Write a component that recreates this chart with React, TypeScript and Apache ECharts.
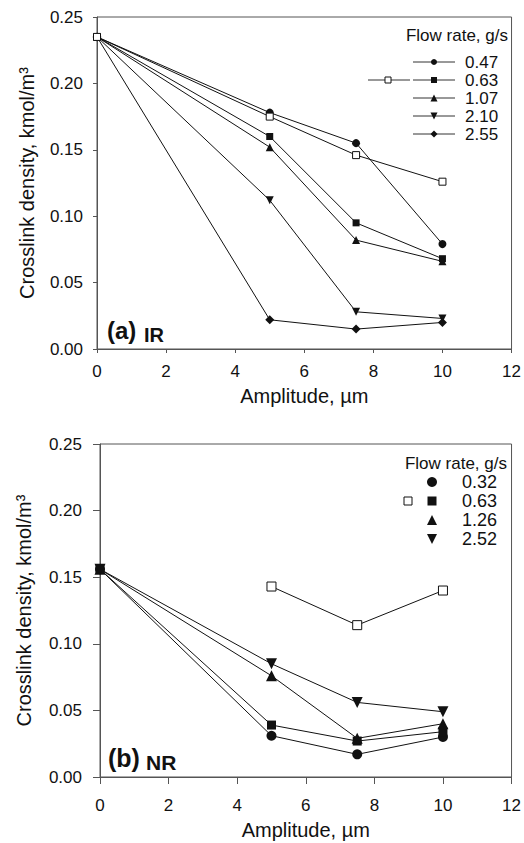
import React, { useEffect, useRef } from "react";
import * as echarts from "echarts";

// ---------- data ----------
const amplitude = [0, 5, 7.5, 10];

// (a) IR panel
const irLabels = ["0.47", "0.63", "1.07", "2.10", "2.55"];
const ir047 = [0.235, 0.178, 0.155, 0.079];
const ir063open = [0.235, 0.175, 0.146, 0.126];
const ir063 = [0.235, 0.16, 0.095, 0.068];
const ir107 = [0.235, 0.152, 0.082, 0.066];
const ir210 = [0.235, 0.112, 0.028, 0.023];
const ir255 = [0.235, 0.022, 0.015, 0.02];

// (b) NR panel
const nrLabels = ["0.32", "0.63", "1.26", "2.52"];
const nr032 = [0.156, 0.031, 0.017, 0.03];
const nr063open = [null, 0.143, 0.114, 0.14];
const nr063 = [0.156, 0.039, 0.027, 0.034];
const nr126 = [0.156, 0.076, 0.029, 0.04];
const nr252 = [0.156, 0.085, 0.056, 0.049];

const legendTitle = "Flow rate, g/s";
const xTitle = "Amplitude, \u00b5m";
const yTitle = "Crosslink density, kmol/m\u00b3";

const FONT = '"Liberation Sans", Arial, Helvetica, sans-serif';
const INK = "#111";
const AXIS = "#555";

function pairs(vals: (number | null)[]) {
  const out: number[][] = [];
  amplitude.forEach((x, i) => {
    const v = vals[i];
    if (v !== null && v !== undefined) out.push([x, v]);
  });
  return out;
}

function lineSeries(
  name: string,
  vals: (number | null)[],
  idx: number,
  symbol: string,
  size: number | number[],
  opts: { rotate?: number; open?: boolean } = {}
) {
  return {
    type: "line",
    name,
    xAxisIndex: idx,
    yAxisIndex: idx,
    data: pairs(vals),
    symbol,
    symbolSize: size,
    symbolRotate: opts.rotate || 0,
    showSymbol: true,
    lineStyle: { color: INK, width: 1 },
    itemStyle: opts.open
      ? { color: "#fff", borderColor: INK, borderWidth: 1 }
      : { color: INK, borderColor: INK, borderWidth: 0 },
    emphasis: { disabled: true },
    z: opts.open ? 3 : 2,
  };
}

function axes(
  idx: number,
  tickLen: number,
  xMargin: number,
  yMargin: number,
  xNameGap: number,
  yNameGap: number
) {
  const common = {
    gridIndex: idx,
    axisLine: { show: true, onZero: false, lineStyle: { color: AXIS, width: 1 } },
    axisTick: { show: true, inside: false, length: tickLen, lineStyle: { color: AXIS, width: 1 } },
    splitLine: { show: false },
  };
  const x = {
    ...common,
    type: "value",
    min: 0,
    max: 12,
    interval: 2,
    name: xTitle,
    nameLocation: "middle",
    nameGap: xNameGap,
    nameTextStyle: { fontFamily: FONT, fontSize: 20, color: INK },
    axisLabel: { margin: xMargin, fontFamily: FONT, fontSize: 17, color: INK },
  };
  const y = {
    ...common,
    type: "value",
    min: 0,
    max: 0.25,
    interval: 0.05,
    name: yTitle,
    nameLocation: "middle",
    nameGap: yNameGap,
    nameTextStyle: { fontFamily: FONT, fontSize: 20, color: INK },
    axisLabel: {
      margin: yMargin,
      fontFamily: FONT,
      fontSize: 17,
      color: INK,
      formatter: (v: number) => v.toFixed(2),
    },
  };
  return { x, y };
}

// ---------- legend helpers (graphic) ----------
function markerShape(kind: string, cx: number, cy: number, s: number, open = false) {
  const style = open
    ? { fill: "#fff", stroke: INK, lineWidth: 1 }
    : { fill: INK, stroke: INK, lineWidth: 0 };
  const h = s / 2;
  if (kind === "circle") return { type: "circle", shape: { cx, cy, r: h }, style, z: 10 };
  if (kind === "rect")
    return { type: "rect", shape: { x: cx - h, y: cy - h, width: s, height: s }, style, z: 10 };
  if (kind === "triangle")
    return {
      type: "polygon",
      shape: { points: [[cx, cy - h], [cx + h, cy + h], [cx - h, cy + h]] },
      style,
      z: 10,
    };
  if (kind === "down")
    return {
      type: "polygon",
      shape: { points: [[cx - h, cy - h], [cx + h, cy - h], [cx, cy + h]] },
      style,
      z: 10,
    };
  return {
    type: "polygon",
    shape: { points: [[cx, cy - h], [cx + h, cy], [cx, cy + h], [cx - h, cy]] },
    style,
    z: 10,
  };
}

function hline(x1: number, x2: number, y: number) {
  return {
    type: "line",
    shape: { x1, y1: y, x2, y2: y },
    style: { stroke: "#333", lineWidth: 1 },
    z: 9,
  };
}

function label(text: string, x: number, y: number, size: number, align = "left", bold = false) {
  return {
    type: "text",
    x,
    y,
    style: {
      text,
      fill: INK,
      font: `${bold ? "bold " : ""}${size}px ${FONT}`,
      align,
      verticalAlign: "middle",
    },
    z: 10,
  };
}

export default function App() {
  const ref = useRef<HTMLDivElement>(null);

  useEffect(() => {
    if (!ref.current) return;
    const chart = echarts.init(ref.current, null, { renderer: "svg" });

    const a = axes(0, 4, 14, 14, 37, 60);
    const b = axes(1, 7, 20, 18, 43, 66);

    // legends
    const topRows = [62, 80, 98, 116, 134];
    const topKinds = ["circle", "rect", "triangle", "down", "diamond"];
    const topSizes = [6, 6, 7, 7, 7];
    const topLegend: any[] = [label(legendTitle, 508, 35, 17, "right")];
    topRows.forEach((ry, i) => {
      topLegend.push(hline(413, 455, ry));
      topLegend.push(markerShape(topKinds[i], 434, ry, topSizes[i]));
      topLegend.push(label(irLabels[i], 465, ry, 17));
    });
    topLegend.push(hline(368, 410, topRows[1]));
    topLegend.push(markerShape("rect", 388, topRows[1], 6, true));

    const botRows = [482, 501, 520, 539];
    const botKinds = ["circle", "rect", "triangle", "down"];
    const botSizes = [10, 9, 10, 10];
    const botLegend: any[] = [label(legendTitle, 507, 463, 17, "right")];
    botRows.forEach((ry, i) => {
      botLegend.push(markerShape(botKinds[i], 432, ry, botSizes[i]));
      botLegend.push(label(nrLabels[i], 462, ry, 18));
    });
    botLegend.push(markerShape("rect", 408, botRows[1], 8, true));

    const annotations = [
      label("(a)", 107, 330, 24, "left", true),
      label("IR", 144, 335, 20, "left", true),
      label("(b)", 108, 758, 25, "left", true),
      label("NR", 146, 762, 21, "left", true),
    ];

    chart.setOption({
      animation: false,
      textStyle: { fontFamily: FONT },
      grid: [
        { left: 97, top: 17, width: 415, height: 332, show: true, borderColor: AXIS, borderWidth: 1, backgroundColor: "transparent" },
        { left: 100, top: 444, width: 412, height: 333, show: true, borderColor: AXIS, borderWidth: 1, backgroundColor: "transparent" },
      ],
      xAxis: [a.x, b.x],
      yAxis: [a.y, b.y],
      series: [
        lineSeries("IR 0.47", ir047, 0, "circle", 8),
        lineSeries("IR 0.63", ir063, 0, "rect", 7),
        lineSeries("IR 1.07", ir107, 0, "triangle", 8),
        lineSeries("IR 2.10", ir210, 0, "triangle", 8, { rotate: 180 }),
        lineSeries("IR 2.55", ir255, 0, "diamond", 9),
        lineSeries("IR 0.63 (open)", ir063open, 0, "rect", 7, { open: true }),
        lineSeries("NR 0.32", nr032, 1, "circle", 10),
        lineSeries("NR 0.63", nr063, 1, "rect", 9),
        lineSeries("NR 1.26", nr126, 1, "triangle", 11),
        lineSeries("NR 2.52", nr252, 1, "triangle", 11, { rotate: 180 }),
        lineSeries("NR 0.63 (open)", nr063open, 1, "rect", 9, { open: true }),
      ],
      graphic: [...topLegend, ...botLegend, ...annotations],
    });

    return () => chart.dispose();
  }, []);

  return (
    <div
      ref={ref}
      style={{ position: "absolute", left: 0, top: 0, width: 524, height: 843, background: "#fff" }}
    />
  );
}
